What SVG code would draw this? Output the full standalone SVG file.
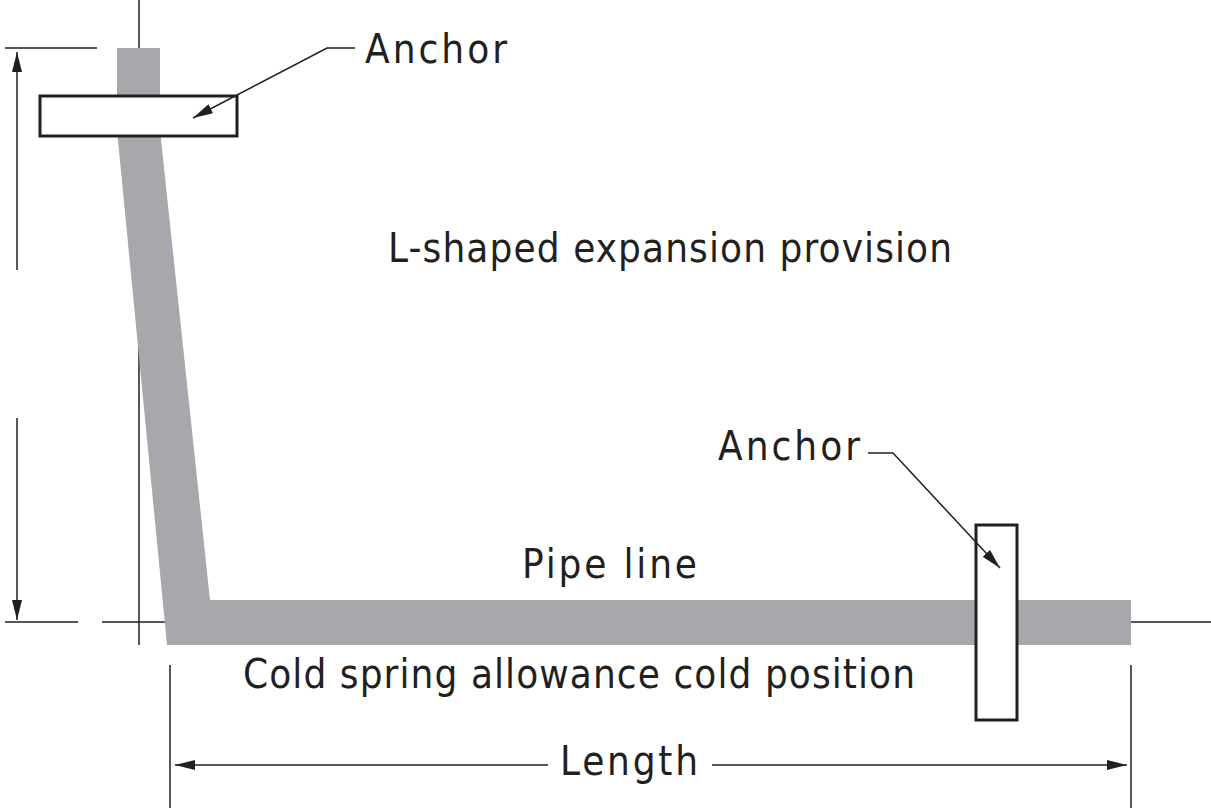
<svg xmlns="http://www.w3.org/2000/svg" width="1211" height="808" viewBox="0 0 1211 808">
<style>
.t{font-family:"DejaVu Sans Condensed","DejaVu Sans",sans-serif;font-size:40px;fill:#231f20}
.th{stroke:#231f20;stroke-width:1.5;fill:none}
.ld{stroke:#231f20;stroke-width:1.5;fill:none}
.box{fill:#fff;stroke:#231f20;stroke-width:3}
</style>
<defs>
<marker id="a" viewBox="0 0 20 10" refX="20" refY="5" markerWidth="20" markerHeight="10" markerUnits="userSpaceOnUse" orient="auto"><path d="M0,0L20,5L0,10z" fill="#231f20"/></marker>
</defs>
<rect width="1211" height="808" fill="#fff"/>
<g id="dimensions">
<path class="th" d="M139,0V645M5,48H97M5,622H78M102,622H170M1131,622H1211M170,665V808M1131,665V808"/>
<path class="th" d="M17,270V52" marker-end="url(#a)"/>
<path class="th" d="M17,418V620" marker-end="url(#a)"/>
<path class="th" d="M548,765H175" marker-end="url(#a)"/>
<path class="th" d="M712,765H1127" marker-end="url(#a)"/>
</g>
<g id="pipe"><path d="M117,48H160V130L210,600H1131V645H167L117,130Z" fill="#a7a8ab"/></g>
<g id="anchor1"><rect class="box" x="40" y="96" width="197" height="40"/></g>
<g id="anchor2"><rect class="box" x="976" y="525" width="41" height="195"/></g>
<g id="connectors">
<path class="ld" d="M355,48H327L193,118" marker-end="url(#a)"/>
<path class="ld" d="M868,453H893L1000,568" marker-end="url(#a)"/>
</g>
<g id="labels">
<text class="t" x="365" y="63" textLength="142">Anchor</text>
<text class="t" x="388" y="262" textLength="564">L-shaped expansion provision</text>
<text class="t" x="718" y="460" textLength="142">Anchor</text>
<text class="t" x="522" y="578" textLength="175">Pipe line</text>
<text class="t" x="243" y="688" textLength="672">Cold spring allowance cold position</text>
<text class="t" x="560" y="775" textLength="138">Length</text>
</g>
</svg>
